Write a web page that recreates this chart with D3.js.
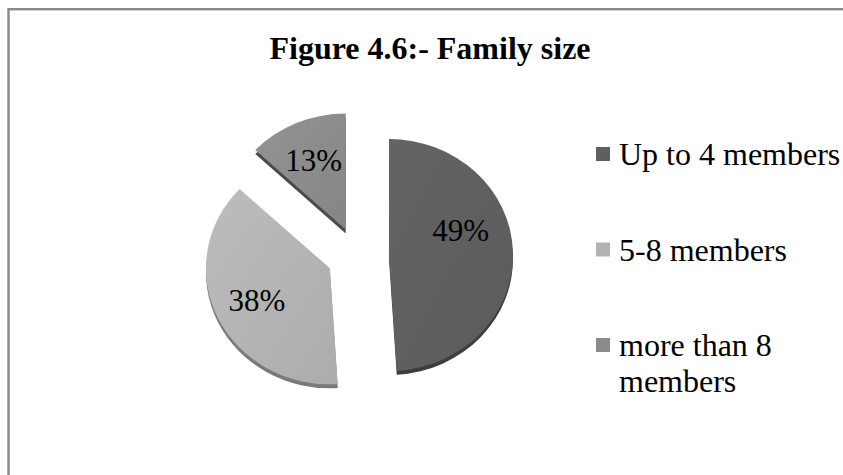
<!DOCTYPE html>
<html>
<head>
<meta charset="utf-8">
<script src="https://cdn.jsdelivr.net/npm/d3@7"></script>
<style>
  html, body { margin: 0; padding: 0; background: #fff; overflow: hidden; }
  svg { display: block; }
  text { font-family: "Liberation Serif", "Times New Roman", serif; }
</style>
</head>
<body>
<svg id="chart" width="843" height="475"></svg>
<script>
// Family size breakdown (share of households, %)
const categories = ["Up to 4 members", "5-8 members", "more than 8 members"];
const shares = [49, 38, 13];
const legendLines = [["Up to 4 members"], ["5-8 members"], ["more than 8", "members"]];
const title = "Figure 4.6:- Family size";

const topColors = ["#5f5f5f", "#b3b3b3", "#8b8b8b"];
const sideColors = ["#3e3e3e", "#7a7a7a", "#4a4a4a"];

const svg = d3.select("#chart");
const W = 843, H = 475;
const serif = '"Liberation Serif", "Times New Roman", serif';

// chart frame (cut off at right and bottom edges)
svg.append("rect")
  .attr("x", 8.5).attr("y", 9.2)
  .attr("width", W + 20).attr("height", H + 20)
  .attr("fill", "#fff")
  .attr("stroke", "#8a8a8a").attr("stroke-width", 2.4);

// title
svg.append("text")
  .attr("x", 430).attr("y", 59)
  .attr("text-anchor", "middle")
  .style("font-family", serif)
  .style("font-weight", "bold")
  .style("font-size", "32px")
  .attr("fill", "#000")
  .text(title);

// pie geometry: tilted disc (ellipse) with exploded slices
const cx = 358, cy = 256;
const rx = 124, ry = 116;
const explode = 31;
const depth = 4;
const tilt = ry / rx;

const pie = d3.pie().sort(null).value(d => d)
  .startAngle(0).endAngle(2 * Math.PI);
const arcs = pie(shares);
const arc = d3.arc().innerRadius(0).outerRadius(rx);
const labelArc = d3.arc().innerRadius(rx * 0.65).outerRadius(rx * 0.65);

const defs = svg.append("defs");
topColors.forEach((c, i) => {
  const g = defs.append("linearGradient")
    .attr("id", "shade" + i)
    .attr("x1", "0%").attr("y1", "0%").attr("x2", "100%").attr("y2", "100%");
  g.append("stop").attr("offset", "0%").attr("stop-color", d3.color(c).brighter(0.15));
  g.append("stop").attr("offset", "100%").attr("stop-color", d3.color(c).darker(0.12));
});

function sliceOffset(d) {
  const mid = (d.startAngle + d.endAngle) / 2;
  return [explode * Math.sin(mid), -explode * Math.cos(mid)];
}

// side walls (drawn first, shifted down)
const sides = svg.append("g");
arcs.forEach((d, i) => {
  const [ox, oy] = sliceOffset(d);
  sides.append("g")
    .attr("transform", `translate(${cx},${cy + depth}) scale(1,${tilt}) translate(${ox},${oy})`)
    .append("path")
    .attr("d", arc(d))
    .attr("fill", sideColors[i]);
});

// top faces
const tops = svg.append("g");
arcs.forEach((d, i) => {
  const [ox, oy] = sliceOffset(d);
  tops.append("g")
    .attr("transform", `translate(${cx},${cy}) scale(1,${tilt}) translate(${ox},${oy})`)
    .append("path")
    .attr("d", arc(d))
    .attr("fill", `url(#shade${i})`);
});

// value labels, placed by best fit inside each slice
const labelNudge = { "Up to 4 members": [-9, -23] };
arcs.forEach((d, i) => {
  const [ox, oy] = sliceOffset(d);
  const [lx, ly] = labelArc.centroid(d);
  const nudge = labelNudge[categories[i]] || [0, 0];
  svg.append("text")
    .attr("x", cx + ox + lx + nudge[0])
    .attr("y", cy + (oy + ly) * tilt + nudge[1])
    .attr("dy", "0.35em")
    .attr("text-anchor", "middle")
    .style("font-family", serif)
    .style("font-size", "31px")
    .attr("fill", "#000")
    .text(shares[i] + "%");
});

// legend
const legendY = d3.scalePoint().domain(categories).range([154, 345]);
const legend = svg.append("g");
categories.forEach((c, i) => {
  const y = legendY(c);
  legend.append("rect")
    .attr("x", 596).attr("y", y - 7)
    .attr("width", 14).attr("height", 14)
    .attr("fill", topColors[i]);
  const t = legend.append("text")
    .attr("x", 619).attr("y", y)
    .style("font-family", serif)
    .style("font-size", "32px")
    .attr("fill", "#000");
  legendLines[i].forEach((line, j) => {
    t.append("tspan")
      .attr("x", 619)
      .attr("y", y + j * 36)
      .attr("dy", "0.35em")
      .text(line);
  });
});
</script>
</body>
</html>
